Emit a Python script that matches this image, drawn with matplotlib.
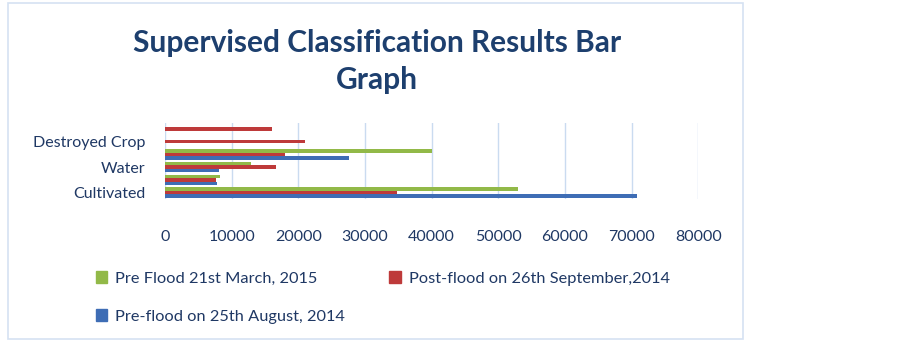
import numpy as np
import matplotlib.pyplot as plt
from matplotlib.patches import Patch, Rectangle

# data (6 category slots, only every other one labelled)
categories = ["Cultivated", "", "Water", "", "Destroyed Crop", ""]
pre_aug_2014 = [70800, 7750, 8100, 27600, 0, 0]
post_sep_2014 = [34800, 7650, 16650, 17950, 21050, 16000]
pre_mar_2015 = [53000, 8300, 12850, 40000, 0, 0]
series_names = ["Pre-flood on 25th August, 2014",
                "Post-flood on 26th September,2014",
                "Pre Flood 21st March, 2015"]
xticks = [0, 10000, 20000, 30000, 40000, 50000, 60000, 70000, 80000]

BLUE = "#3E6DB5"
RED = "#BE3A3A"
GREEN = "#92B948"
TXT = "#1F3864"

plt.rcParams["font.family"] = ["Lato", "DejaVu Sans"]

fig = plt.figure(figsize=(9.02, 3.41), dpi=100)
ax = fig.add_axes([0.183, 0.4164, 0.591, 0.224])

y = np.arange(len(categories))
h = 0.27
ax.barh(y - h, pre_aug_2014, h, color=BLUE, zorder=3)
ax.barh(y, post_sep_2014, h, color=RED, zorder=3)
ax.barh(y + h, pre_mar_2015, h, color=GREEN, zorder=3)

ax.set_xlim(0, 80000)
ax.set_ylim(-0.5, len(categories) - 0.5)
ax.set_xticks(xticks)
ax.set_xticklabels([str(t) for t in xticks])
ax.set_yticks(y)
ax.set_yticklabels(categories)
ax.tick_params(axis="x", length=0, pad=22, labelsize=11.5, labelcolor=TXT)
ax.tick_params(axis="y", length=0, pad=14, labelsize=11.5, labelcolor=TXT)
ax.xaxis.grid(True, color="#CADBF0", linewidth=1, zorder=0)
for s in ax.spines.values():
    s.set_visible(False)

fig.text(0.418, 0.875, "Supervised Classification Results Bar",
         ha="center", va="center", fontsize=21.5, fontweight="bold", color="#1D3F6E")
fig.text(0.418, 0.765, "Graph",
         ha="center", va="center", fontsize=21.5, fontweight="bold", color="#1D3F6E")

# outer chart frame
fig.patches.append(Rectangle((8 / 902, 2 / 341), 735 / 902, 336 / 341,
                             transform=fig.transFigure, fill=False,
                             edgecolor="#D5E2F2", linewidth=1.2))

handles = [Patch(color=GREEN), Patch(color=BLUE), Patch(color=RED)]
labels = [series_names[2], series_names[0], series_names[1]]
leg = fig.legend(handles, labels, ncol=2, loc="upper left",
                 bbox_to_anchor=(0.106, 0.205), frameon=False,
                 handlelength=0.7, handleheight=0.7, handletextpad=0.5,
                 labelspacing=1.45, columnspacing=2.7, fontsize=11.8,
                 borderaxespad=0, borderpad=0)
for t in leg.get_texts():
    t.set_color(TXT)

fig.savefig("out.png", dpi=100)
